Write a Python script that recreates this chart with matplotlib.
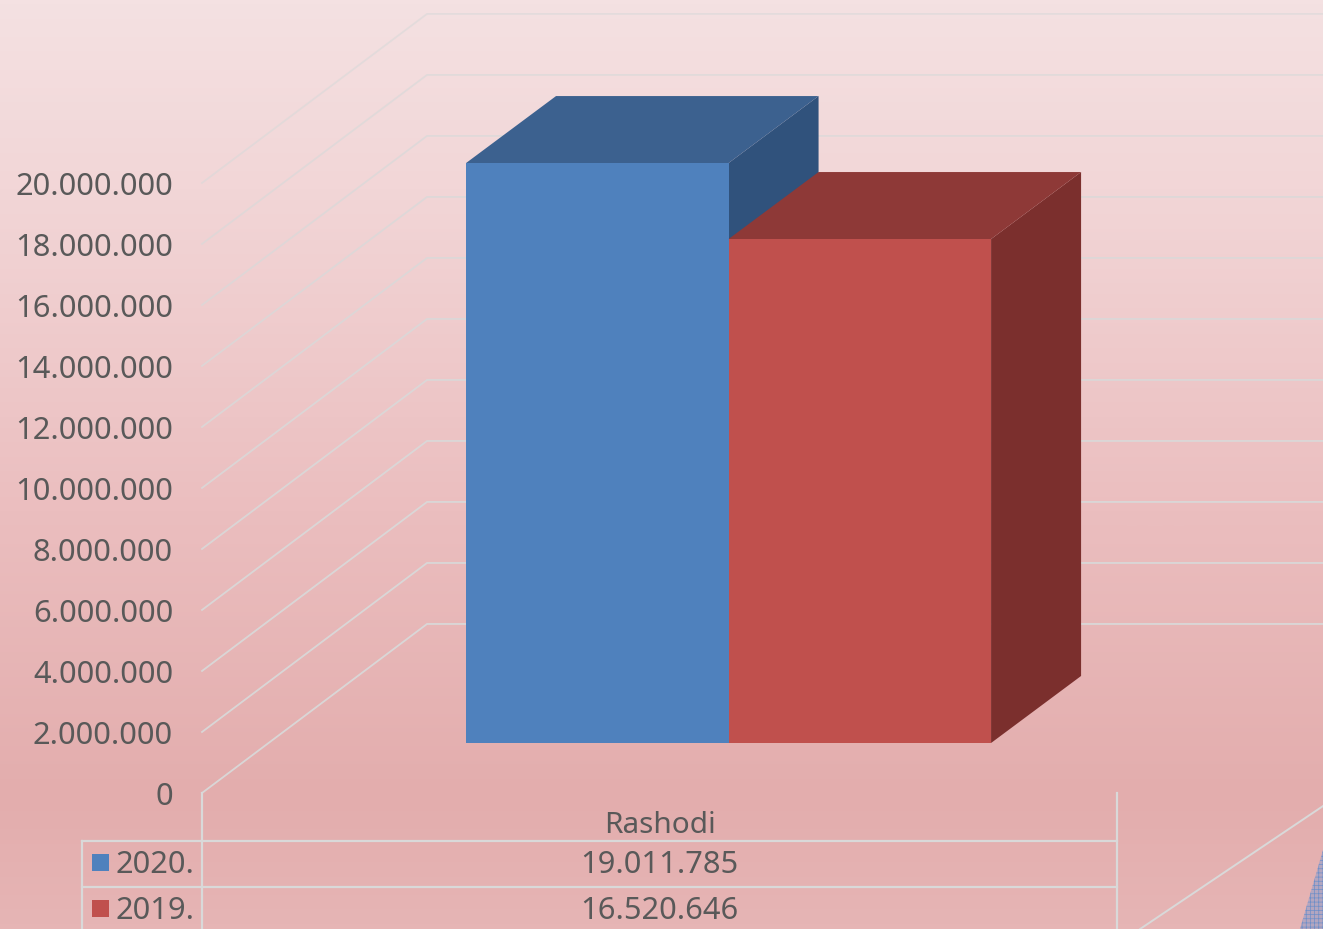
import numpy as np
import matplotlib
matplotlib.use("Agg")
import matplotlib.pyplot as plt
from matplotlib.colors import LinearSegmentedColormap
from matplotlib.patches import Polygon
from matplotlib.ticker import FuncFormatter

category = "Rashodi"
series_names = ["2020.", "2019."]
series_values = [19011785, 16520646]
front_colors = ["#4F81BD", "#C0504D"]
top_colors = ["#3C618F", "#8E3937"]
side_colors = ["#30527C", "#7B2F2D"]
y_ticks = [0, 2000000, 4000000, 6000000, 8000000, 10000000,
           12000000, 14000000, 16000000, 18000000, 20000000]

W, H = 1323, 929
PX_PER_UNIT = 30.5e-6
Y0 = 793
TXT = "#595959"
GRID = "#D9D9D9"
FONT = "Noto Sans"
FS = 22.2

plt.rcParams["font.family"] = [FONT, "DejaVu Sans"]
fig = plt.figure(figsize=((W + 0.1) / 100, (H + 0.1) / 100), dpi=100)
ax = fig.add_axes([0, 0, 1, 1])
ax.set_xlim(0, W)
ax.set_ylim((Y0 - H) / PX_PER_UNIT, Y0 / PX_PER_UNIT)
ax.axis("off")


def up(px):
    """pixel offset -> value-axis units"""
    return px / PX_PER_UNIT


def row(py):
    """figure pixel row -> value-axis units"""
    return (Y0 - py) / PX_PER_UNIT


# background gradient
cmap = LinearSegmentedColormap.from_list("bg", [
    (0.0, "#F4E1E2"), (0.2, "#F2D6D7"), (0.55, "#EBBEBF"),
    (0.86, "#E3ADAD"), (1.0, "#E6B5B5")])
ax.imshow(np.linspace(0, 1, 256)[:, None], cmap=cmap, aspect="auto",
          extent=[0, W, row(H), row(0)], origin="upper", zorder=0,
          interpolation="bilinear")

# gridlines: side wall + back wall
WALL_X0, WALL_DX, WALL_DY = 202, 225, 169
fmt = FuncFormatter(lambda x, _: f"{int(x):,}".replace(",", "."))
for v in y_ticks:
    alpha = 0.95 - 0.35 * (v / max(y_ticks)) ** 2
    ax.plot([WALL_X0, WALL_X0 + WALL_DX, W],
            [v, v + up(WALL_DY), v + up(WALL_DY)],
            color=GRID, lw=1.3, alpha=alpha, zorder=1, solid_joinstyle="miter")
    ax.text(173, v, fmt(v), ha="right", va="center_baseline",
            fontsize=FS, color=TXT)

# 3D bars
BAR_LEFT, BAR_W = 466, 262.5
BAR_BASE_UP, DX, DY = 50, 90, 67
base = up(BAR_BASE_UP)
depth = up(DY)
for i in (0, 1):
    v = series_values[i]
    xl = BAR_LEFT + i * BAR_W
    xr = xl + BAR_W
    ax.add_patch(Polygon([(xr, base), (xr + DX, base + depth),
                          (xr + DX, base + v + depth), (xr, base + v)],
                         fc=side_colors[i], ec="none", zorder=3 + i))
    ax.add_patch(Polygon([(xl, base + v), (xl + DX, base + v + depth),
                          (xr + DX, base + v + depth), (xr, base + v)],
                         fc=top_colors[i], ec="none", zorder=3 + i))
    ax.bar(xl, v, width=BAR_W, bottom=base, align="edge",
           color=front_colors[i], zorder=3.5 + i)

# data table
TL, TM, TR = 82, 202, 1117
ROWS = [841, 887]
LW = 1.6
for py in ROWS:
    ax.plot([TL, TR], [row(py)] * 2, color=GRID, lw=LW, zorder=2)
ax.plot([TM, TM], [row(793), row(H)], color=GRID, lw=LW, zorder=2)
ax.plot([TR, TR], [row(793), row(H)], color=GRID, lw=LW, zorder=2)
ax.plot([TL, TL], [row(841), row(H)], color=GRID, lw=LW, zorder=2)

CX = (TM + TR) / 2
TEXT_SHIFT = 2
ax.text(CX, row(823 + TEXT_SHIFT), category, ha="center", va="center",
        fontsize=FS - 0.8, color=TXT)
for name, v, col, py in zip(series_names, series_values, front_colors, [863, 909]):
    ax.text(CX, row(py + TEXT_SHIFT), f"{v:,}".replace(",", "."), ha="center", va="center",
            fontsize=FS, color=TXT)
    ax.text(115.5, row(py + TEXT_SHIFT), name, ha="left", va="center", fontsize=FS, color=TXT)
    ax.add_patch(Polygon([(92, row(py - 8.5)), (109, row(py - 8.5)),
                          (109, row(py + 8.5)), (92, row(py + 8.5))],
                         fc=col, ec="none", zorder=3))

# decoration at the lower right
ax.plot([1140, W], [row(929), row(806)], color=GRID, lw=1.4, zorder=2)
plt.rcParams["hatch.linewidth"] = 0.5
ax.add_patch(Polygon([(W, row(850)), (W, row(929)), (1300, row(929))],
                     fc="#B3A6C0", ec="none", zorder=2))
ax.add_patch(Polygon([(W, row(850)), (W, row(929)), (1300, row(929))],
                     fc="none", ec="#6F8FC8", lw=0, hatch="++++", zorder=2))

fig.savefig("out.png", dpi=100)
